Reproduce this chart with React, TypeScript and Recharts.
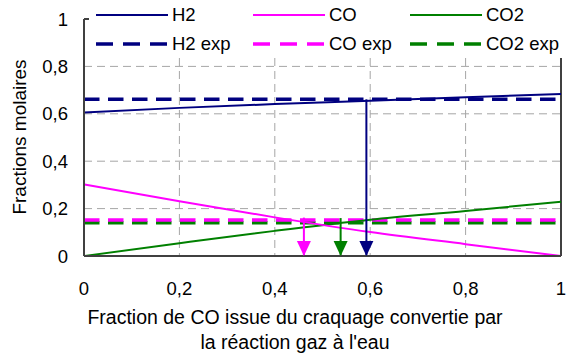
import React from 'react';
import { ComposedChart, Line, XAxis, YAxis, CartesianGrid, ReferenceLine } from 'recharts';

// fraction of cracked CO converted by water-gas shift
const xValues = [0, 0.2, 0.4, 0.6, 0.8, 1];
const h2Values = [0.606, 0.625, 0.641, 0.655, 0.67, 0.684];
const coValues = [0.302, 0.231, 0.163, 0.101, 0.05, 0];
const co2Values = [0, 0.054, 0.106, 0.153, 0.19, 0.229];

// experimental levels
const h2Exp = 0.661;
const coExp = 0.152;
const co2Exp = 0.14;

// arrows pointing to the matching conversion
const arrowCoX = 0.461;
const arrowCo2X = 0.538;
const arrowH2X = 0.592;

const xTicks = [0, 0.2, 0.4, 0.6, 0.8, 1];
const yTicks = [0, 0.2, 0.4, 0.6, 0.8, 1];
const gridTicks = [0.2, 0.4, 0.6, 0.8];

const NAVY = '#000080';
const MAGENTA = '#FF00FF';
const GREEN = '#008000';
const AXIS = '#404040';
const FONT = '"Liberation Sans", Arial, sans-serif';
const DASH = '15.5 8.5';

const toPoints = (ys: number[]) => xValues.map((x, i) => ({ x, y: ys[i] }));
const flat = (y: number) => [{ x: 0, y }, { x: 1, y }];
const arrow = (x: number, top: number) => [{ x, y: top }, { x, y: 0 }];

const fmt = (v: number) => String(v).replace('.', ',');

const arrowHead = (color: string) => (props: any) => {
  const { cx, cy, index } = props;
  if (index !== 1) return <g key={`e${index}`} />;
  return (
    <path
      key={`h${index}`}
      d={`M${cx - 7},${cy - 15} L${cx + 7},${cy - 15} L${cx},${cy} Z`}
      fill={color}
      stroke="none"
    />
  );
};

const legendItems = [
  { name: 'H2', color: NAVY, dashed: false },
  { name: 'CO', color: MAGENTA, dashed: false },
  { name: 'CO2', color: GREEN, dashed: false },
  { name: 'H2 exp', color: NAVY, dashed: true },
  { name: 'CO exp', color: MAGENTA, dashed: true },
  { name: 'CO2 exp', color: GREEN, dashed: true },
];

const YTick = (props: any) => {
  const { x, y, payload } = props;
  return (
    <text x={x} y={y} dy="0.355em" textAnchor="end" fontSize={18.5} fill="#000" fontFamily={FONT}>
      {fmt(payload.value)}
    </text>
  );
};

export default function App() {
  return (
    <div style={{ position: 'absolute', left: 0, top: 0, width: 566, height: 360, background: '#fff', fontFamily: FONT }}>
      <ComposedChart width={566} height={360} margin={{ top: 19, right: 5, bottom: 74, left: 0 }}>
        <CartesianGrid
          stroke="#a6a6a6"
          strokeDasharray="8 5"
          horizontalValues={gridTicks}
          verticalValues={gridTicks}
        />
        <XAxis
          type="number"
          dataKey="x"
          domain={[0, 1]}
          ticks={xTicks}
          tickFormatter={fmt}
          height={30}
          tickLine={false}
          tickSize={6}
          tickMargin={20}
          axisLine={{ stroke: AXIS, strokeWidth: 2 }}
          tick={{ fontSize: 18.5, fill: '#000', fontFamily: FONT }}
          interval={0}
        />
        <YAxis
          type="number"
          dataKey="y"
          domain={[0, 1]}
          ticks={yTicks}
          width={84}
          tickLine={false}
          tickSize={6}
          tickMargin={10}
          axisLine={{ stroke: AXIS, strokeWidth: 2 }}
          tick={<YTick />}
          interval={0}
        />
        <ReferenceLine x={1} stroke={AXIS} strokeWidth={2} />
        <ReferenceLine y={1} stroke={AXIS} strokeWidth={2} />

        <Line data={flat(co2Exp)} dataKey="y" stroke={GREEN} strokeWidth={3.5} strokeDasharray={DASH} dot={false} isAnimationActive={false} />
        <Line data={flat(coExp)} dataKey="y" stroke={MAGENTA} strokeWidth={3.5} strokeDasharray={DASH} dot={false} isAnimationActive={false} />
        <Line data={flat(h2Exp)} dataKey="y" stroke={NAVY} strokeWidth={3.5} strokeDasharray={DASH} dot={false} isAnimationActive={false} />

        <Line data={toPoints(co2Values)} dataKey="y" type="monotone" stroke={GREEN} strokeWidth={2} dot={false} isAnimationActive={false} />
        <Line data={toPoints(coValues)} dataKey="y" type="monotone" stroke={MAGENTA} strokeWidth={2} dot={false} isAnimationActive={false} />
        <Line data={toPoints(h2Values)} dataKey="y" type="monotone" stroke={NAVY} strokeWidth={2} dot={false} isAnimationActive={false} />

        <Line data={arrow(arrowCoX, coExp + 0.01)} dataKey="y" stroke={MAGENTA} strokeWidth={2} dot={arrowHead(MAGENTA)} isAnimationActive={false} />
        <Line data={arrow(arrowCo2X, co2Exp + 0.02)} dataKey="y" stroke={GREEN} strokeWidth={2} dot={arrowHead(GREEN)} isAnimationActive={false} />
        <Line data={arrow(arrowH2X, h2Exp)} dataKey="y" stroke={NAVY} strokeWidth={2} dot={arrowHead(NAVY)} isAnimationActive={false} />
      </ComposedChart>

      {/* legend box sits over the top of the plot area */}
      <div style={{ position: 'absolute', left: 89, top: 0, width: 477, height: 58, background: '#fff' }}>
        {legendItems.map((item, i) => {
          const col = i % 3;
          const row = Math.floor(i / 3);
          return (
            <div
              key={item.name}
              style={{ position: 'absolute', left: 7 + col * 157, top: row * 29, height: 30, display: 'flex', alignItems: 'center' }}
            >
              <svg width={72} height={8}>
                <line
                  x1={0}
                  y1={4}
                  x2={72}
                  y2={4}
                  stroke={item.color}
                  strokeWidth={item.dashed ? 3.5 : 2}
                  strokeDasharray={item.dashed ? '17 10' : undefined}
                />
              </svg>
              <span style={{ fontSize: 18.5, marginLeft: 4, color: '#000', whiteSpace: 'nowrap' }}>{item.name}</span>
            </div>
          );
        })}
      </div>

      <div
        style={{
          position: 'absolute',
          left: 20,
          top: 137,
          transform: 'translate(-50%, -50%) rotate(-90deg)',
          fontSize: 19,
          whiteSpace: 'nowrap',
          color: '#000',
        }}
      >
        Fractions molaires
      </div>

      <div
        style={{
          position: 'absolute',
          left: 0,
          top: 305,
          width: 590,
          textAlign: 'center',
          fontSize: 19.5,
          lineHeight: '25px',
          color: '#000',
        }}
      >
        Fraction de CO issue du craquage convertie par
        <br />
        la réaction gaz à l'eau
      </div>
    </div>
  );
}
